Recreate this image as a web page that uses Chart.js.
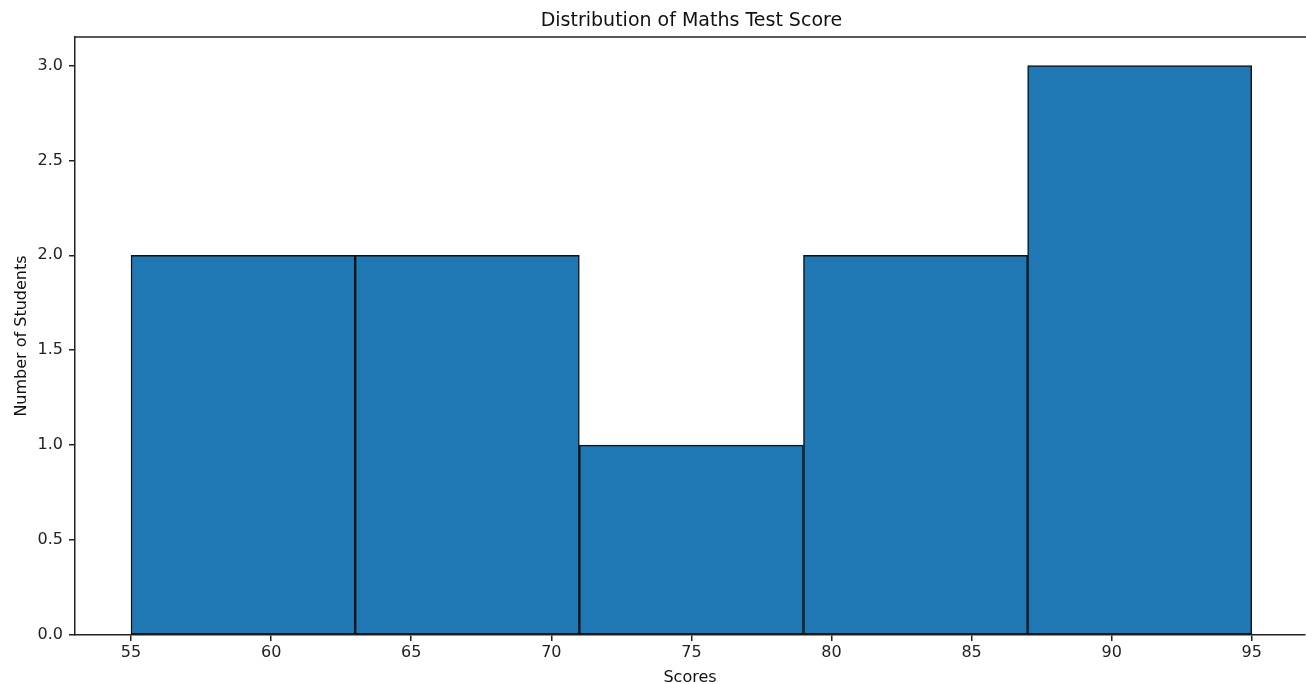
<!DOCTYPE html>
<html>
<head>
<meta charset="utf-8">
<script src="https://cdn.jsdelivr.net/npm/chart.js@4"></script>
<style>
  html, body { margin: 0; padding: 0; background: #fff; }
  #wrap { width: 1306px; height: 684px; }
</style>
</head>
<body>
<div id="wrap"><canvas id="histChart"></canvas></div>
<script>
// histogram bins (score ranges) and counts
const binEdges = [55, 63, 71, 79, 87, 95];
const counts = [2, 2, 1, 2, 3];
const xTicks = [55, 60, 65, 70, 75, 80, 85, 90, 95];
const yTicks = [0, 0.5, 1, 1.5, 2, 2.5, 3];
const chartTitle = "Distribution of Maths Test Score";

const binCenters = counts.map((c, i) => (binEdges[i] + binEdges[i + 1]) / 2);
const points = counts.map((c, i) => ({ x: binCenters[i], y: c }));

// top spine (the right one falls just outside the picture) and a title
// centred over the whole axes box, like matplotlib does
const axesDecor = {
  id: "axesDecor",
  afterDraw(chart) {
    const { ctx, chartArea } = chart;
    const xScale = chart.scales.x;
    const axesRight = xScale.getPixelForValue(97);
    ctx.save();
    ctx.strokeStyle = "#222";
    ctx.lineWidth = 1.5;
    ctx.beginPath();
    ctx.moveTo(chartArea.left, chartArea.top);
    ctx.lineTo(chart.width, chartArea.top);
    ctx.stroke();

    ctx.fillStyle = "#111";
    ctx.font = "19px 'DejaVu Sans', sans-serif";
    ctx.textAlign = "center";
    ctx.textBaseline = "middle";
    ctx.fillText(chartTitle, (chartArea.left + axesRight) / 2, 21);
    ctx.restore();
  }
};

Chart.defaults.font.family = "'DejaVu Sans', sans-serif";
Chart.defaults.color = "#222";

new Chart(document.getElementById("histChart"), {
  type: "bar",
  data: {
    datasets: [{
      label: "Scores",
      data: points,
      backgroundColor: "#1f77b4",
      borderColor: "#111",
      borderWidth: 1.5,
      barThickness: "flex",
      barPercentage: 1,
      categoryPercentage: 1,
      borderSkipped: false
    }]
  },
  options: {
    responsive: true,
    maintainAspectRatio: false,
    animation: false,
    layout: { padding: { left: 0, right: 1, top: 37, bottom: 0 } },
    plugins: {
      legend: { display: false },
      tooltip: { enabled: false },
      title: { display: false }
    },
    scales: {
      x: {
        type: "linear",
        offset: false,
        min: 53,
        max: 96.9,
        afterBuildTicks: (scale) => { scale.ticks = xTicks.map((v) => ({ value: v })); },
        afterFit: (scale) => { scale.height = 49; },
        grid: { offset: false, drawOnChartArea: false, drawTicks: true, tickLength: 6, color: "#222", lineWidth: 1.5 },
        border: { color: "#222", width: 1.5 },
        ticks: { color: "#222", font: { size: 16 }, padding: 2, maxRotation: 0, autoSkip: false },
        title: { display: true, text: "Scores", color: "#111", font: { size: 16 }, padding: { top: 0, bottom: -3 } }
      },
      y: {
        min: 0,
        max: 3.15,
        afterBuildTicks: (scale) => { scale.ticks = yTicks.map((v) => ({ value: v })); },
        afterFit: (scale) => { scale.width = 75; },
        grid: { drawOnChartArea: false, drawTicks: true, tickLength: 6, color: "#222", lineWidth: 1.5 },
        border: { color: "#222", width: 1.5 },
        ticks: { color: "#222", font: { size: 16 }, padding: 6, callback: (v) => v.toFixed(1) },
        title: { display: true, text: "Number of Students", color: "#111", font: { size: 16 }, padding: { top: 12, bottom: 0 } }
      }
    }
  },
  plugins: [axesDecor]
});
</script>
</body>
</html>
